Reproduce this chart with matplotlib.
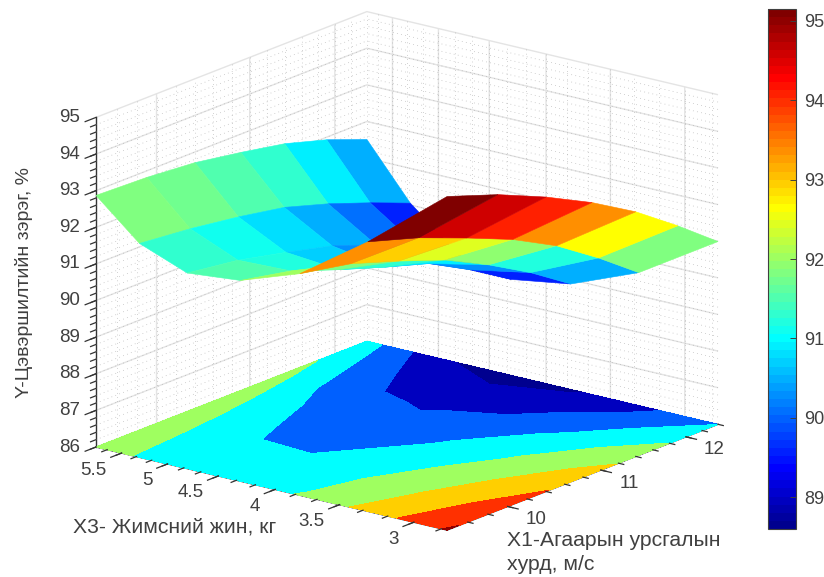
import numpy as np
import matplotlib as mpl
import matplotlib.pyplot as plt
from matplotlib.cm import ScalarMappable
from matplotlib.colors import ListedColormap, Normalize
from mpl_toolkits.mplot3d import proj3d

mpl.use('Agg')
plt.rcParams['font.family'] = ['Liberation Sans', 'DejaVu Sans']

# both horizontal axes are logarithmic in the original
x1 = [9.4, 9.9, 10.4, 10.9, 11.4, 11.9, 12.4]
x3 = [2.8, 3.3, 3.8, 4.3, 4.8, 5.3, 5.8]
# rows follow x3, columns follow x1
y_row0 = [95.11, 94.62, 94.04, 93.40, 92.68, 91.85, 90.99]
y_row1 = [93.36, 92.93, 92.41, 91.88, 91.24, 90.46, 89.63]
y_row2 = [92.05, 91.78, 91.34, 90.88, 90.28, 89.62, 88.88]
y_row3 = [91.48, 91.20, 90.72, 90.30, 89.93, 89.31, 88.62]
y_row4 = [91.34, 91.15, 90.85, 90.54, 90.10, 89.60, 88.98]
y_row5 = [91.84, 91.70, 91.51, 91.28, 90.91, 90.49, 90.05]
y_row6 = [92.87, 92.82, 92.71, 92.50, 92.27, 91.93, 91.51]

x1_ticks = [10, 11, 12]
x3_ticks = [3, 3.5, 4, 4.5, 5, 5.5]
x3_labels = ['3', '3.5', '4', '4.5', '5', '5.5']
y_ticks = [86, 87, 88, 89, 90, 91, 92, 93, 94, 95]
cbar_ticks = [89, 90, 91, 92, 93, 94, 95]
levels = [88, 89, 90, 91, 92, 93, 94, 95, 96]

TEXT = '#404040'
W, H = 824, 577

Z = np.array([y_row0, y_row1, y_row2, y_row3, y_row4, y_row5, y_row6])
X, Y = np.meshgrid(np.log10(x1), np.log10(x3))
xlim = (np.log10(x1[0]), np.log10(x1[-1]))
ylim = (np.log10(x3[0]), np.log10(x3[-1]))
zlim = (86, 95)


def matlab_jet(n):
    # matplotlib's jet is not the same as the MATLAB one
    t = (np.arange(n) + 1) / n
    r = np.clip(np.minimum(4 * t - 1.5, -4 * t + 4.5), 0, 1)
    g = np.clip(np.minimum(4 * t - 0.5, -4 * t + 3.5), 0, 1)
    b = np.clip(np.minimum(4 * t + 0.5, -4 * t + 2.5), 0, 1)
    return ListedColormap(np.column_stack([r, g, b]))


cmap = matlab_jet(64)
norm = Normalize(88.6, 95.15)

fig = plt.figure(figsize=(W / 100, H / 100), dpi=100)
ax = fig.add_axes([0, 0, 1, 1], projection='3d', computed_zorder=False)
ax.set_proj_type('ortho')
ax.view_init(elev=17.7, azim=-142.1)
ax.set_box_aspect((441, 445, 346), zoom=1.0)
ax.set_xlim(xlim)
ax.set_ylim(ylim)
ax.set_zlim(zlim)
ax.patch.set_alpha(0)

for axis in (ax.xaxis, ax.yaxis, ax.zaxis):
    axis.set_pane_color((1, 1, 1, 0))
    axis.pane.set_edgecolor('none')
    axis._axinfo['grid'].update(color='#e4e4e4', linewidth=1.0)
    axis._axinfo['tick']['inward_factor'] = 0
    axis._axinfo['tick']['outward_factor'] = 0
    axis.line.set_color('#333333')
    axis.line.set_linewidth(1.0)

ax.set_xticks(np.log10(x1_ticks))
ax.set_yticks(np.log10(x3_ticks))
ax.set_zticks(y_ticks)
ax.set_xticklabels([])
ax.set_yticklabels([])
ax.set_zticklabels([])


def minor_values(ticks, step, lo, hi):
    out = []
    t = ticks[0] - step * 20
    while t < hi:
        if t > lo:
            out.append(t)
        t += step
    return out


x1_minor = minor_values(x1_ticks, 0.2, x1[0], x1[-1])
x3_minor = minor_values(x3_ticks, 0.5 / 3, x3[0], x3[-1])
z_minor = minor_values([86], 0.2, 86, 95)

dot = dict(color='#a8a8a8', lw=0.5, ls=(0, (1, 5)), zorder=1)
for v in np.log10(x1_minor):
    ax.plot([v, v], [ylim[1], ylim[1]], zlim, **dot)
for v in np.log10(x3_minor):
    ax.plot([xlim[1], xlim[1]], [v, v], zlim, **dot)
for v in z_minor:
    ax.plot(xlim, [ylim[1], ylim[1]], [v, v], **dot)
    ax.plot([xlim[1], xlim[1]], ylim, [v, v], **dot)

ax.contourf(X, Y, Z, levels=levels, colors=[cmap(norm(l)) for l in levels[:-1]],
            zdir='z', offset=86, zorder=2)
ax.plot_surface(X, Y, Z, facecolors=cmap(norm(Z)), rstride=1, cstride=1,
                shade=False, linewidth=0.4, zorder=3)

# tick marks, drawn by hand since mplot3d has no minor ticks
dx = xlim[1] - xlim[0]
dy = ylim[1] - ylim[0]
tick = dict(color='#333333', lw=0.9, zorder=4)
for vals, ln in ((x3_ticks, 0.04), (x3_minor, 0.02)):
    for v in np.log10(vals):
        ax.plot([xlim[0], xlim[0] - ln * dx], [v, v], [86, 86], **tick)
for vals, ln in ((x1_ticks, 0.03), (x1_minor, 0.015)):
    for v in np.log10(vals):
        ax.plot([v, v], [ylim[0], ylim[0] - ln * dy], [86, 86], **tick)
for vals, ln in ((y_ticks, 0.04), (z_minor, 0.02)):
    for v in vals:
        ax.plot([xlim[0], xlim[0] - ln * dx], [ylim[1], ylim[1]], [v, v], **tick)
ax.set_xlim(xlim)
ax.set_ylim(ylim)
ax.set_zlim(zlim)


def corner_px(x, y, z):
    fig.canvas.draw()
    u, v, _ = proj3d.proj_transform(x, y, z, ax.get_proj())
    return ax.transData.transform((u, v))


# fit the 3D box on the picture: left corner (96, 447), right corner (718, 424)
size = H
for _ in range(3):
    left = corner_px(xlim[0], ylim[1], 86)
    right = corner_px(xlim[1], ylim[0], 86)
    size *= (718 - 96) / (right[0] - left[0])
    pos = ax.get_position()
    ax.set_position([pos.x0, pos.y0, size / W, size / H])
    left = corner_px(xlim[0], ylim[1], 86)
    pos = ax.get_position()
    ax.set_position([pos.x0 + (96 - left[0]) / W, pos.y0 + (H - 447 - left[1]) / H,
                     pos.width, pos.height])


def tick_label(x, y, z, s, off_x, off_y, ha):
    px = corner_px(x, y, z)
    fig.text((px[0] + off_x) / W, (px[1] - off_y) / H, s, fontsize=13.5, color=TEXT,
             ha=ha, va='center')


for t in x1_ticks:
    tick_label(np.log10(t), ylim[0], 86, str(t), 28, 13, 'center')
for t, s in zip(x3_ticks, x3_labels):
    tick_label(xlim[0], np.log10(t), 86, s, -15, 17, 'right')
for t in y_ticks:
    tick_label(xlim[0], ylim[1], t, str(t), -16, 0, 'right')

cax = fig.add_axes([768 / W, 1 - 529 / H, 28 / W, 520 / H])
cb = fig.colorbar(ScalarMappable(norm=norm, cmap=cmap), cax=cax)
cb.set_ticks(cbar_ticks)
cb.ax.tick_params(direction='in', length=4, width=0.7, color='#404040',
                  labelsize=13, labelcolor=TEXT, pad=6)
cb.outline.set_edgecolor('#404040')
cb.outline.set_linewidth(0.8)

fig.text(24 / W, 1 - 282 / H, 'Y-Цэвэршилтийн зэрэг, %', rotation=90, fontsize=14,
         color=TEXT, ha='center', va='center')
fig.text(73 / W, 1 - 527 / H, 'X3- Жимсний жин, кг', fontsize=15.2,
         color=TEXT, ha='left', va='center')
fig.text(507 / W, 1 - 541 / H, 'X1-Агаарын урсгалын', fontsize=15.2,
         color=TEXT, ha='left', va='center')
fig.text(507 / W, 1 - 565 / H, 'хурд, м/с', fontsize=15.2,
         color=TEXT, ha='left', va='center')

fig.savefig('out.png', dpi=100)
